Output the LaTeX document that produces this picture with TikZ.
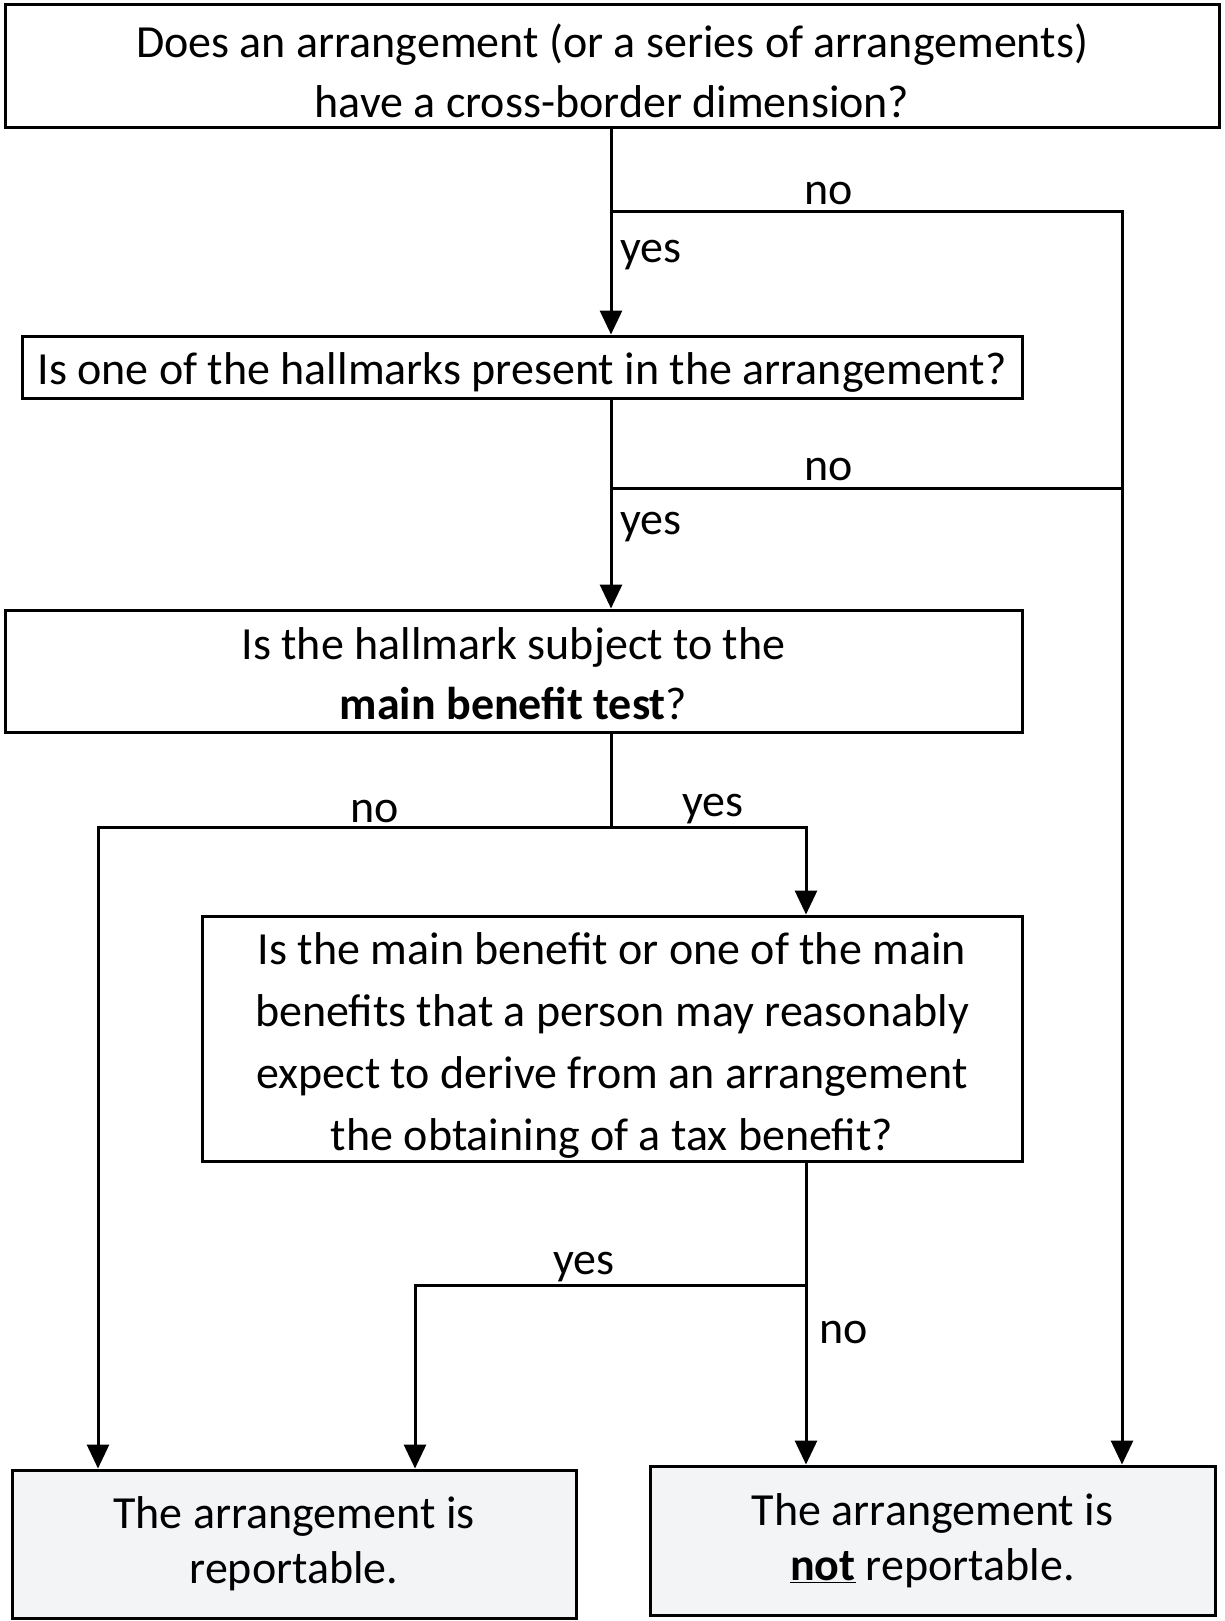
\documentclass[tikz,border=0pt]{standalone}
\usepackage{fontspec}
\setmainfont{Carlito}
\usetikzlibrary{arrows.meta}
\definecolor{boxgray}{HTML}{F3F4F6}

\tikzset{
  qbox/.style={draw, line width=3pt, inner sep=0pt},
  qtext/.style={align=center, inner sep=0pt, font=\fontsize{46}{60}\selectfont},
  endbox/.style={qbox, fill=boxgray, align=center, font=\fontsize{46}{55}\selectfont},
  link/.style={line width=3pt},
  flow/.style={link, -{Triangle[width=22pt,length=24pt]}},
  lbl/.style={font=\fontsize{46}{50}\selectfont, inner sep=0pt},
}

\begin{document}
\begin{tikzpicture}[x=1pt,y=-1pt]
\useasboundingbox (0,0) rectangle (1225,1621);

% questions
\node[qbox, minimum width=1214pt, minimum height=123pt,
  label={[qtext, yshift=-4pt]center:{Does an arrangement (or a series of arrangements)\\ have a cross-border dimension?}}]
  (q1) at (612,66.5) {};
\node[qbox, minimum width=1000pt, minimum height=62pt,
  label={[qtext, yshift=-5pt]center:{Is one of the hallmarks present in the arrangement?}}]
  (q2) at (522,367) {};
\node[qbox, minimum width=1017pt, minimum height=122pt,
  label={[qtext, yshift=-3pt]center:{Is the hallmark subject to the\\ \textbf{main benefit test}?}}]
  (q3) at (513.5,671) {};
\node[qbox, minimum width=820pt, minimum height=245pt,
  label={[qtext, font=\fontsize{46}{62}\selectfont, yshift=-7pt]center:{Is the main benefit or one of the main\\ benefits that a person may reasonably\\
   expect to derive from an arrangement\\ the obtaining of a tax benefit?}}]
  (q4) at (612,1038.5) {};

% outcomes
\node[endbox, minimum width=564pt, minimum height=148pt] (rep) at (294,1544)
  {The arrangement is\\ reportable.};
\node[endbox, minimum width=565pt, minimum height=149pt] (notrep) at (932.5,1540.5)
  {The arrangement is\\ \underline{\textbf{not}} reportable.};

% junctions
\coordinate (j1) at (611,212);
\coordinate (j2) at (611,488);
\coordinate (j3) at (611,827);
\coordinate (j4) at (806,1285);
\coordinate (nx) at (1122,212);

% connectors
\draw[flow] (q1.south -| j1) -- (q2.north -| j1);
\draw[flow] (j1) -- (nx) -- (notrep.north -| nx);
\draw[flow] (q2.south -| j2) -- (q3.north -| j2);
\draw[link] (j2) -- (j2 -| nx);
\draw[link] (q3.south -| j3) -- (j3);
\draw[flow] (j3) -- (98,827) -- (rep.north -| 98,0);
\draw[flow] (j3) -- (j3 -| j4) -- (q4.north -| j4);
\draw[flow] (q4.south -| j4) -- (notrep.north -| j4);
\draw[flow] (j4) -- (415,1285) -- (rep.north -| 415,0);

% labels
\node[lbl] (no1) at (829,194) {no};
\node[lbl] (yes1) at (651,255) {yes};
\node[lbl] (no2) at (829,470) {no};
\node[lbl] (yes2) at (651,527) {yes};
\node[lbl] (no3) at (375,811) {no};
\node[lbl] (yes3) at (713,809) {yes};
\node[lbl] (yes4) at (584,1267) {yes};
\node[lbl] (no4) at (844,1332) {no};
\end{tikzpicture}
\end{document}
